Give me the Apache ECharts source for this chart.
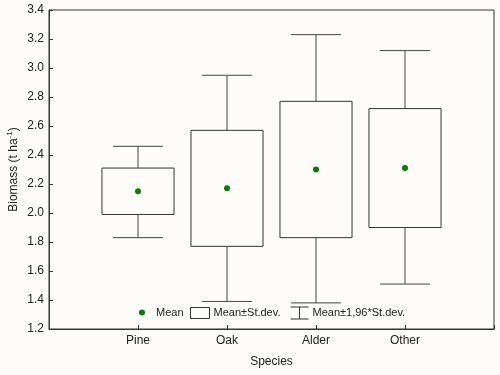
<!DOCTYPE html>
<html><head><meta charset="utf-8">
<script src="https://cdn.jsdelivr.net/npm/echarts@6/dist/echarts.min.js"></script>
<style>html,body{margin:0;padding:0;background:#fdfcf9}#c{width:500px;height:375px}</style>
</head><body><div id="c"></div>
<script>
const categories = ['Pine', 'Oak', 'Alder', 'Other'];
const means = [2.15, 2.17, 2.30, 2.31];
const sdLow = [1.99, 1.77, 1.83, 1.90];
const sdHigh = [2.31, 2.57, 2.77, 2.72];
const ciLow = [1.83, 1.39, 1.38, 1.51];
const ciHigh = [2.46, 2.95, 3.23, 3.12];
const yTicks = [1.2, 1.4, 1.6, 1.8, 2.0, 2.2, 2.4, 2.6, 2.8, 3.0, 3.2, 3.4];

const font = 'Liberation Sans, Arial, sans-serif';
const lineCol = '#444';
const rows = categories.map((c, i) => [i + 1, means[i], sdLow[i], sdHigh[i], ciLow[i], ciHigh[i]]);

const chart = echarts.init(document.getElementById('c'), null, {renderer: 'canvas'});
chart.setOption({
  backgroundColor: '#fdfcf9',
  animation: false,
  grid: {left: 49, right: 6, top: 10, bottom: 46, show: true, borderColor: '#333', borderWidth: 1,
    backgroundColor: 'transparent', containLabel: false, outerBoundsMode: 'none'},
  xAxis: {
    type: 'value', min: 0, max: categories.length + 1, interval: 1,
    name: 'Species', nameLocation: 'middle', nameGap: 27, nameMoveOverlap: false,
    nameTextStyle: {fontFamily: font, fontSize: 12, color: '#222'},
    axisLine: {show: true, lineStyle: {color: '#333'}},
    axisTick: {show: true, inside: true, length: 4, lineStyle: {color: '#333'}},
    splitLine: {show: false},
    axisLabel: {fontFamily: font, fontSize: 12, color: '#222', margin: 6,
      formatter: v => (v >= 1 && v <= categories.length) ? categories[v - 1] : ''}
  },
  yAxis: {
    type: 'value', min: yTicks[0], max: yTicks[yTicks.length - 1], interval: 0.2,
    name: '{a|Biomass (t ha}{s|-1}{a|)}', nameLocation: 'middle', nameGap: 28, nameRotate: 90, nameMoveOverlap: false,
    nameTextStyle: {fontFamily: font, color: '#222', rich: {
      a: {fontFamily: font, fontSize: 12, color: '#222'},
      s: {fontFamily: font, fontSize: 8, color: '#222', padding: [0, 0, 7, 0]}}},
    axisLine: {show: true, lineStyle: {color: '#333'}},
    axisTick: {show: true, inside: true, length: 4, lineStyle: {color: '#333'}},
    splitLine: {show: false},
    axisLabel: {fontFamily: font, fontSize: 12, color: '#222', margin: 5, formatter: v => v.toFixed(1)}
  },
  legend: [
    {data: [{name: 'Mean', icon: 'circle', itemStyle: {color: '#0a7a0a', opacity: 1}}], left: 139, top: 307, padding: 0,
     itemWidth: 6, itemHeight: 6, itemGap: 0, textStyle: {fontFamily: font, fontSize: 11, color: '#222', padding: [0, 0, 0, 6]}},
    {data: [{name: 'Mean±St.dev.', icon: 'rect', itemStyle: {color: 'transparent', borderColor: '#333', borderWidth: 1}}], left: 190, top: 307, padding: 0,
     itemWidth: 19, itemHeight: 11, itemGap: 0, textStyle: {fontFamily: font, fontSize: 11, color: '#222', padding: [0, 0, 0, -1]}},
    {data: [{name: 'Mean±1,96*St.dev.', icon: 'path://M0,0 L18,0 M9,0 L9,12 M0,12 L18,12', itemStyle: {color: 'transparent', borderColor: '#333', borderWidth: 1}}], left: 290, top: 306.5, padding: 0,
     itemWidth: 18, itemHeight: 12, itemGap: 0, textStyle: {fontFamily: font, fontSize: 11, color: '#222', padding: [0, 0, 0, -1]}}
  ],
  series: [
    {
      name: 'Mean±1,96*St.dev.', type: 'custom', z: 2,
      data: rows,
      encode: {x: 0, y: [4, 5]},
      renderItem: (params, api) => {
        const x = api.value(0);
        const half = api.size([1, 0])[0] * 0.28;
        const lo = api.coord([x, api.value(4)]);
        const hi = api.coord([x, api.value(5)]);
        const bl = api.coord([x, api.value(2)]);
        const bh = api.coord([x, api.value(3)]);
        const st = {stroke: lineCol, lineWidth: 1, fill: null};
        return {type: 'group', children: [
          {type: 'line', shape: {x1: hi[0], y1: hi[1], x2: bh[0], y2: bh[1]}, style: st},
          {type: 'line', shape: {x1: lo[0], y1: lo[1], x2: bl[0], y2: bl[1]}, style: st},
          {type: 'line', shape: {x1: hi[0] - half, y1: hi[1], x2: hi[0] + half, y2: hi[1]}, style: st},
          {type: 'line', shape: {x1: lo[0] - half, y1: lo[1], x2: lo[0] + half, y2: lo[1]}, style: st}
        ]};
      }
    },
    {
      name: 'Mean±St.dev.', type: 'custom', z: 3,
      data: rows,
      encode: {x: 0, y: [2, 3]},
      renderItem: (params, api) => {
        const x = api.value(0);
        const w = api.size([1, 0])[0] * 0.81;
        const bl = api.coord([x, api.value(2)]);
        const bh = api.coord([x, api.value(3)]);
        return {type: 'rect', shape: {x: bh[0] - w / 2, y: bh[1], width: w, height: bl[1] - bh[1]},
          style: {stroke: '#333', lineWidth: 1, fill: 'transparent'}};
      }
    },
    {
      name: 'Mean', type: 'scatter', z: 4,
      data: rows.map(r => [r[0], r[1]]),
      symbol: 'circle', symbolSize: 6,
      itemStyle: {color: '#0a7a0a', opacity: 1}
    }
  ]
});
</script></body></html>
